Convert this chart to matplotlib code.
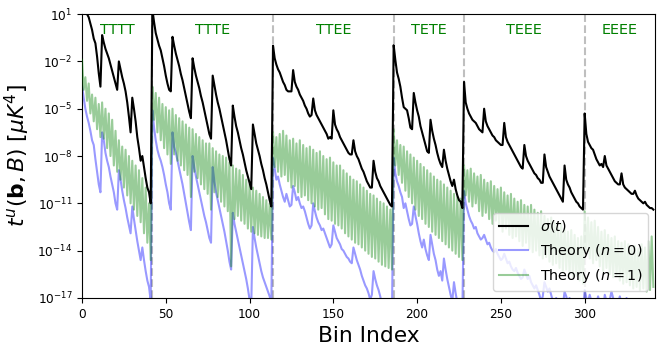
import numpy as np
import matplotlib
matplotlib.use("Agg")
import matplotlib.pyplot as plt

# segment names and first bin of each segment
segments = ["TTTT", "TTTE", "TTEE", "TETE", "TEEE", "EEEE"]
seg_starts = [0, 42, 114, 186, 228, 300]
n_bins = 342

# log10 of sigma(t), read per segment
sig_tttt = [2.5, 1.8, 1.3, 1.0, 0.8, 0.4, 0.0, -0.55, -0.85, -1.7, -2.75, -3.6,
            -0.33, -0.8, -1.2, -1.5, -1.8, -2.2, -2.6, -3.0, -3.4, -3.8,
            -2.0, -2.5, -3.0, -3.4, -3.9, -4.6, -5.5, -6.5,
            -4.3, -5.0, -5.8, -6.8, -7.5, -8.3,
            -8.0, -8.7, -9.4, -10.0,
            -10.3, -11.0]
sig_ttte = [1.3, 0.5, -0.2, -0.6, -1.0, -1.3, -1.8, -2.3, -2.9, -3.4, -3.8, -3.9,
            -0.44, -1.0, -1.5, -1.9, -2.3, -2.8, -3.2, -3.7, -4.2, -4.7, -5.2, -5.6,
            -1.8, -2.4, -2.9, -3.3, -3.7, -4.2, -4.6, -5.1, -5.6, -6.1, -6.6, -6.9,
            -2.9, -3.5, -4.1, -4.6, -5.0, -5.5, -6.0, -6.5, -7.0, -7.6, -8.2, -8.6,
            -4.8, -5.5, -6.1, -6.5, -7.0, -7.5, -7.9, -8.4, -8.9, -9.3, -9.7, -10.1,
            -6.0, -6.6, -7.2, -7.6, -8.0, -8.5, -8.9, -9.4, -9.8, -10.3, -10.8, -11.2]
sig_ttee = [-1.0, -1.8, -2.2, -2.5, -2.7, -3.0, -3.3, -3.5, -3.8, -3.9, -3.9, -3.9,
            -2.55, -3.3, -3.6, -3.8, -4.1, -4.3, -4.5, -4.8, -5.0, -5.3, -5.5, -5.4,
            -4.35, -5.1, -5.4, -5.6, -5.8, -6.0, -6.2, -6.4, -6.6, -6.9, -6.8, -6.9,
            -5.1, -6.0, -6.3, -6.5, -6.8, -7.0, -7.2, -7.4, -7.6, -7.8, -7.9, -7.9,
            -7.0, -7.7, -8.0, -8.2, -8.5, -8.8, -9.0, -9.3, -9.6, -9.8, -10.0, -10.0,
            -8.3, -9.0, -9.4, -9.6, -9.9, -10.1, -10.3, -10.5, -10.7, -10.9, -11.1, -11.2]
sig_tete = [-0.97, -1.9, -2.7, -3.1, -3.6, -4.3, -4.9, -5.0, -5.1, -5.6, -6.2, -6.3,
            -4.0, -4.6, -5.1, -5.5, -6.1, -6.5, -6.9, -7.3, -7.7, -7.8,
            -5.7, -6.4, -6.9, -7.3, -7.8, -8.2, -8.5, -8.7,
            -7.6, -8.3, -8.8, -9.2, -9.6, -9.9,
            -9.5, -10.1, -10.5, -10.8,
            -10.9, -11.3]
sig_teee = [-3.3, -4.6, -5.0, -5.3, -5.5, -5.7, -5.8, -5.9, -6.1, -6.3, -6.4, -6.5,
            -5.0, -5.8, -6.1, -6.3, -6.5, -6.7, -6.8, -7.0, -7.1, -7.2, -7.3, -7.3,
            -5.9, -6.8, -7.1, -7.3, -7.5, -7.7, -7.9, -8.1, -8.3, -8.5, -8.7, -8.8,
            -7.3, -8.0, -8.3, -8.5, -8.7, -8.9, -9.1, -9.2, -9.4, -9.5, -9.7, -9.7,
            -7.9, -8.7, -9.0, -9.3, -9.5, -9.7, -9.9, -10.1, -10.3, -10.5, -10.7, -10.9,
            -8.6, -9.5, -9.8, -10.0, -10.3, -10.5, -10.7, -10.9, -11.0, -11.2, -11.3, -11.4]
sig_eeee = [-5.3, -6.6, -7.1, -7.3, -7.5, -7.6, -7.9, -8.2, -8.4, -8.6, -8.5, -8.7,
            -8.0, -8.6, -8.8, -9.0, -9.2, -9.4, -9.6, -9.7, -9.8, -9.8,
            -9.1, -9.8, -10.0, -10.1, -10.2, -10.3, -10.4, -10.4,
            -10.2, -10.5, -10.7, -10.8, -10.9, -11.0,
            -10.9, -11.1, -11.2, -11.3,
            -11.3, -11.4]

# log10 of theory n=0
th0_tttt = [-3.5, -4.3, -5.0, -5.5, -5.9, -6.4, -7.0, -7.3, -8.2, -9.0, -9.8, -10.3,
            -6.5, -7.0, -7.8, -8.3, -8.7, -9.3, -9.8, -10.3, -11.0, -11.4,
            -8.9, -9.5, -10.2, -10.8, -11.3, -11.9, -12.4, -12.9,
            -11.2, -12.0, -12.7, -13.4, -14.0, -14.6,
            -13.8, -14.6, -15.3, -15.9,
            -16.3, -17.2]
th0_ttte = [-5.1, -6.2, -7.0, -7.6, -8.0, -8.3, -8.7, -9.2, -9.8, -10.3, -11.0, -11.4,
            -6.5, -7.4, -7.8, -8.3, -8.8, -9.3, -9.8, -10.4, -11.0, -11.6, -12.2, -12.7,
            -8.0, -8.7, -9.3, -9.8, -10.3, -10.8, -11.3, -11.8, -12.2, -12.7, -13.2, -13.5,
            -8.7, -9.6, -10.3, -10.8, -11.3, -11.8, -12.3, -12.8, -13.4, -14.0, -14.7, -15.2,
            -11.6, -12.3, -12.8, -13.3, -13.8, -14.3, -14.8, -15.3, -15.8, -16.4, -17.1, -17.5,
            -12.5, -13.2, -13.8, -14.3, -14.8, -15.3, -15.7, -16.0, -16.3, -16.6, -16.9, -17.3]
th0_ttee = [-8.1, -8.8, -9.5, -9.3, -9.8, -10.2, -10.6, -10.9, -10.4, -10.8, -11.2, -11.1,
            -9.9, -10.3, -10.8, -10.6, -11.0, -11.3, -11.2, -11.5, -11.9, -12.3, -12.6, -12.4,
            -11.0, -11.5, -11.9, -12.2, -12.4, -12.7, -12.6, -12.9, -13.2, -13.5, -13.8, -13.6,
            -12.4, -12.8, -13.2, -13.4, -13.6, -13.9, -14.0, -14.2, -14.4, -14.5, -14.7, -14.8,
            -13.8, -14.2, -14.6, -14.9, -15.2, -15.6, -15.9, -16.2, -16.4, -16.7, -17.1, -16.8,
            -15.3, -15.8, -16.2, -16.5, -16.9, -17.4, -17.8, -18.0, -18.0, -18.0, -18.0, -18.0]
th0_tete = [-8.1, -9.1, -9.6, -9.9, -10.3, -10.6, -11.3, -11.0, -11.5, -12.0, -12.4, -12.3,
            -11.2, -11.8, -12.3, -12.9, -13.4, -13.8, -13.3, -13.9, -14.3, -14.6,
            -13.0, -13.6, -14.2, -14.6, -15.2, -15.6, -15.3, -15.9,
            -14.5, -15.2, -15.8, -16.3, -16.8, -17.2,
            -16.0, -16.7, -17.3, -18.0,
            -18.0, -18.0]
th0_teee = [-10.2, -11.0, -11.4, -11.8, -12.1, -12.3, -12.6, -12.5, -12.9, -13.1, -13.3, -13.2,
            -13.0, -13.3, -13.6, -13.5, -13.8, -14.0, -14.1, -13.9, -14.2, -14.4, -14.6, -14.5,
            -14.2, -14.5, -14.8, -14.7, -15.0, -15.2, -15.3, -15.1, -15.4, -15.6, -15.8, -15.7,
            -15.2, -15.5, -15.8, -15.6, -16.0, -16.2, -16.4, -16.2, -16.5, -16.8, -17.2, -16.9,
            -16.0, -16.3, -16.6, -16.4, -16.8, -17.2, -17.6, -17.0, -17.3, -17.8, -18.0, -17.5,
            -16.6, -16.9, -17.3, -17.0, -17.5, -18.0, -18.0, -17.4, -17.8, -18.0, -18.0, -18.0]
th0_eeee = [-16.5, -17.0, -17.3, -16.8, -17.2, -17.6, -18.0, -17.4, -16.9, -17.3, -17.8, -18.0,
            -16.8, -17.2, -17.6, -17.1, -16.6, -17.0, -17.5, -18.0, -17.3, -16.9,
            -17.4, -18.0, -17.6, -17.0, -17.5, -18.0, -18.0, -17.5,
            -17.9, -18.0, -18.0, -18.0, -18.0, -18.0,
            -18.0, -18.0, -18.0, -18.0,
            -18.0, -18.0]

# log10 of theory n=1: it alternates bin to bin, upper (even bins) and lower (odd bins)
th1_hi = {
    "TTTT": [-1.9, -3.0, -3.4, -4.1, -4.3, -4.7, -4.6, -5.0, -5.3, -5.7, -6.4, -7.0, -7.4, -7.6,
             -8.0, -8.3, -8.6, -8.9, -9.4, -10.0, -11.0],
    "TTTE": [-3.6, -4.0, -4.3, -4.7, -4.9, -5.1, -5.0, -5.4, -5.6, -5.8, -6.0, -6.2,
             -6.3, -6.6, -6.8, -7.0, -7.2, -7.2, -7.5, -7.7, -7.9, -8.0, -8.1, -8.4,
             -8.6, -8.8, -8.9, -9.2, -9.5, -9.8, -10.0, -10.2, -10.4, -10.6, -10.8, -11.0],
    "TTEE": [-6.5, -6.8, -6.6, -6.4, -6.7, -7.0, -6.9, -7.2, -7.0, -7.3, -7.5, -7.4,
             -7.6, -7.8, -7.7, -8.0, -8.2, -8.1, -8.4, -8.6, -8.6, -8.9, -9.1, -9.3,
             -9.5, -9.6, -9.8, -10.0, -10.2, -10.4, -10.5, -10.7, -10.9, -11.0, -11.2, -11.4],
    "TETE": [-6.3, -7.0, -7.3, -7.4, -7.7, -7.9, -8.1, -8.3, -8.5, -8.7, -8.9, -9.1, -9.3, -9.5,
             -9.6, -9.8, -10.0, -10.2, -10.4, -10.6, -10.7],
    "TEEE": [-8.6, -8.9, -8.8, -9.1, -9.3, -9.2, -9.5, -9.7, -9.6, -9.9, -10.1, -10.0,
             -10.3, -10.5, -10.4, -10.7, -10.9, -10.8, -11.1, -11.2, -11.1, -11.4, -11.6, -11.5,
             -11.8, -12.0, -11.9, -12.2, -12.4, -12.3, -12.6, -12.8, -12.7, -13.0, -13.2, -13.1],
    "EEEE": [-11.5, -11.9, -12.2, -12.1, -12.5, -12.8, -12.7, -13.0, -13.2, -13.1, -13.4, -13.5,
             -13.4, -13.6, -13.8, -13.7, -13.9, -13.6, -13.8, -13.4, -13.1],
}
th1_lo = {
    "TTTT": [-3.8, -4.5, -5.3, -5.8, -6.3, -6.8, -6.9, -7.5, -8.0, -8.6, -9.0, -9.5, -10.0, -10.5,
             -11.0, -11.4, -11.8, -12.2, -12.9, -13.5, -14.6],
    "TTTE": [-5.7, -6.5, -7.0, -7.5, -7.9, -8.5, -7.9, -8.3, -8.6, -8.9, -9.2, -10.6,
             -9.0, -9.4, -9.8, -10.1, -10.4, -11.4, -10.3, -10.6, -10.9, -11.2, -11.5, -15.0,
             -12.0, -11.8, -12.1, -12.3, -12.6, -12.8, -12.9, -13.0, -13.1, -13.2, -13.2, -13.3],
    "TTEE": [-8.7, -9.0, -9.3, -9.2, -9.6, -10.0, -9.9, -10.3, -10.6, -10.5, -10.8, -11.0,
             -11.2, -11.4, -11.3, -11.7, -12.0, -12.1, -12.3, -12.4, -12.6, -12.9, -13.1, -13.3,
             -13.5, -13.6, -13.8, -14.0, -14.2, -14.4, -14.5, -14.7, -14.9, -15.0, -15.1, -15.2],
    "TETE": [-8.6, -9.2, -9.7, -10.2, -10.6, -11.0, -11.4, -11.8, -12.0, -12.3, -12.5, -12.8,
             -13.0, -13.2, -13.4, -13.6, -13.8, -14.0, -14.2, -14.4, -14.6],
    "TEEE": [-10.5, -10.9, -11.2, -11.0, -11.5, -11.8, -11.6, -12.0, -12.3, -12.1, -12.5, -12.8,
             -12.6, -13.0, -13.2, -13.1, -13.4, -13.7, -13.5, -13.9, -14.1, -14.0, -14.3, -14.5,
             -14.4, -14.7, -14.9, -14.8, -15.1, -15.3, -15.2, -15.5, -15.7, -15.6, -15.9, -16.1],
    "EEEE": [-14.0, -14.5, -14.8, -14.6, -15.0, -15.3, -15.1, -15.5, -15.7, -15.6, -15.9, -16.1,
             -16.0, -16.2, -16.4, -16.3, -16.5, -16.4, -16.6, -16.5, -16.3],
}

sigma = 10.0 ** np.concatenate([sig_tttt, sig_ttte, sig_ttee, sig_tete, sig_teee, sig_eeee])
theory0 = 10.0 ** np.concatenate([th0_tttt, th0_ttte, th0_ttee, th0_tete, th0_teee, th0_eeee])
theory1 = 10.0 ** np.concatenate(
    [np.column_stack([th1_hi[s], th1_lo[s]]).ravel() for s in segments])
bins = np.arange(len(sigma))

fig = plt.figure(figsize=(6.64, 3.53), dpi=100)
ax = fig.add_axes([0.1235, 0.156, 0.863, 0.804])

ax.plot(bins, sigma, color="black", lw=1.5, label=r"$\sigma(t)$", zorder=4)
ax.plot(bins, theory0, color="blue", alpha=0.4, lw=1.5, label=r"Theory ($n=0$)", zorder=2)
ax.plot(bins, theory1, color="green", alpha=0.4, lw=1.5, label=r"Theory ($n=1$)", zorder=3)

for s in seg_starts[1:]:
    ax.axvline(s, color="gray", ls="--", alpha=0.5, lw=1.5, zorder=1)

ends = seg_starts[1:] + [n_bins]
for name, a, b in zip(segments, seg_starts, ends):
    ax.text((a + b) / 2, 1.0, name, color="green", fontsize=10.4,
            ha="center", va="center")

ax.set_yscale("log")
ax.set_ylim(1e-17, 1e1)
ax.set_xlim(0, n_bins)
ax.set_yticks([10.0 ** k for k in range(1, -18, -3)])
ax.yaxis.set_minor_locator(matplotlib.ticker.NullLocator())
ax.tick_params(labelsize=8.7)
ax.set_xlabel("Bin Index", fontsize=15.7)
ax.set_ylabel(r"$t^u(\mathbf{b},B)$ [$\mu K^4$]", fontsize=15.7)
ax.legend(loc="lower right", fontsize=10.4)

fig.savefig("out.png", dpi=100)
